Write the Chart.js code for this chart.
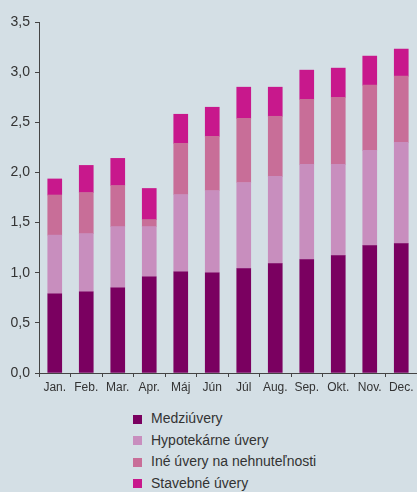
<!DOCTYPE html>
<html>
<head>
<meta charset="utf-8">
<script src="https://cdn.jsdelivr.net/npm/chart.js@4"></script>
<style>
  body { margin: 0; background: #d4dfe5; width: 417px; height: 492px; overflow: hidden; position: relative; font-family: "Liberation Sans", Arial, sans-serif; }
  #wrap { position: absolute; left: 0; top: 0; width: 417px; height: 400px; }
  #legend { position: absolute; left: 133px; top: 408px; margin: 0; padding: 0; list-style: none; }
  #legend li { height: 21.5px; line-height: 21.5px; font-size: 14px; color: #333; white-space: nowrap; }
  #legend span { display: inline-block; width: 9px; height: 9px; margin-right: 9px; vertical-align: -0.5px; }
</style>
</head>
<body>
<div id="wrap"><canvas id="chart" width="417" height="400"></canvas></div>
<ul id="legend"></ul>
<script>
// CATEGORIES
const months = ['Jan.', 'Feb.', 'Mar.', 'Apr.', 'Máj', 'Jún', 'Júl', 'Aug.', 'Sep.', 'Okt.', 'Nov.', 'Dec.'];

// SERIES (stacked, bottom to top)
const medziuvery = [0.79, 0.81, 0.85, 0.96, 1.01, 1.00, 1.04, 1.09, 1.13, 1.17, 1.27, 1.29];
const hypotekarne = [0.585, 0.58, 0.61, 0.50, 0.77, 0.82, 0.86, 0.87, 0.95, 0.91, 0.95, 1.01];
const ineUvery = [0.40, 0.41, 0.41, 0.07, 0.51, 0.54, 0.64, 0.60, 0.65, 0.67, 0.65, 0.66];
const stavebne = [0.16, 0.27, 0.27, 0.31, 0.29, 0.29, 0.31, 0.29, 0.29, 0.29, 0.29, 0.27];

const seriesNames = ['Medziúvery', 'Hypotekárne úvery', 'Iné úvery na nehnuteľnosti', 'Stavebné úvery'];
const seriesColors = ['#7a0060', '#c88ebe', '#c86e98', '#c8188c'];
const seriesData = [medziuvery, hypotekarne, ineUvery, stavebne];

const axisColor = '#444';

const datasets = seriesNames.map((name, i) => ({
  label: name,
  data: seriesData[i],
  backgroundColor: seriesColors[i],
  borderWidth: 0,
  barThickness: 14,
}));

const chart = new Chart(document.getElementById('chart'), {
  type: 'bar',
  data: { labels: months, datasets: datasets },
  options: {
    responsive: false,
    animation: false,
    layout: { padding: { top: 22, right: 0, bottom: 0, left: 0 } },
    plugins: {
      legend: { display: false },
      tooltip: { enabled: false },
    },
    scales: {
      x: {
        stacked: true,
        grid: { offset: true, drawOnChartArea: false, drawTicks: true, tickLength: 4, color: axisColor },
        border: { display: true, color: axisColor, width: 1 },
        ticks: {
          color: '#333',
          padding: 3,
          maxRotation: 0,
          autoSkip: false,
          font: { family: "'Liberation Sans Narrow', 'Arial Narrow', Arial, sans-serif", size: 12 },
        },
        afterFit: (scale) => { scale.height = 27; },
      },
      y: {
        stacked: true,
        min: 0,
        max: 3.5,
        grid: { drawOnChartArea: false, drawTicks: true, tickLength: 4, color: axisColor },
        border: { display: true, color: axisColor, width: 1 },
        ticks: {
          stepSize: 0.5,
          color: '#333',
          padding: 5,
          font: { family: "'Liberation Sans', Arial, sans-serif", size: 14 },
          callback: (value) => value.toFixed(1).replace('.', ','),
        },
        afterFit: (scale) => { scale.width = 39; },
      },
    },
  },
});

// HTML LEGEND (vertical list)
const legendEl = document.getElementById('legend');
chart.data.datasets.forEach((ds) => {
  const li = document.createElement('li');
  li.innerHTML = `<span style="background:${ds.backgroundColor}"></span>${ds.label}`;
  legendEl.appendChild(li);
});
</script>
</body>
</html>
